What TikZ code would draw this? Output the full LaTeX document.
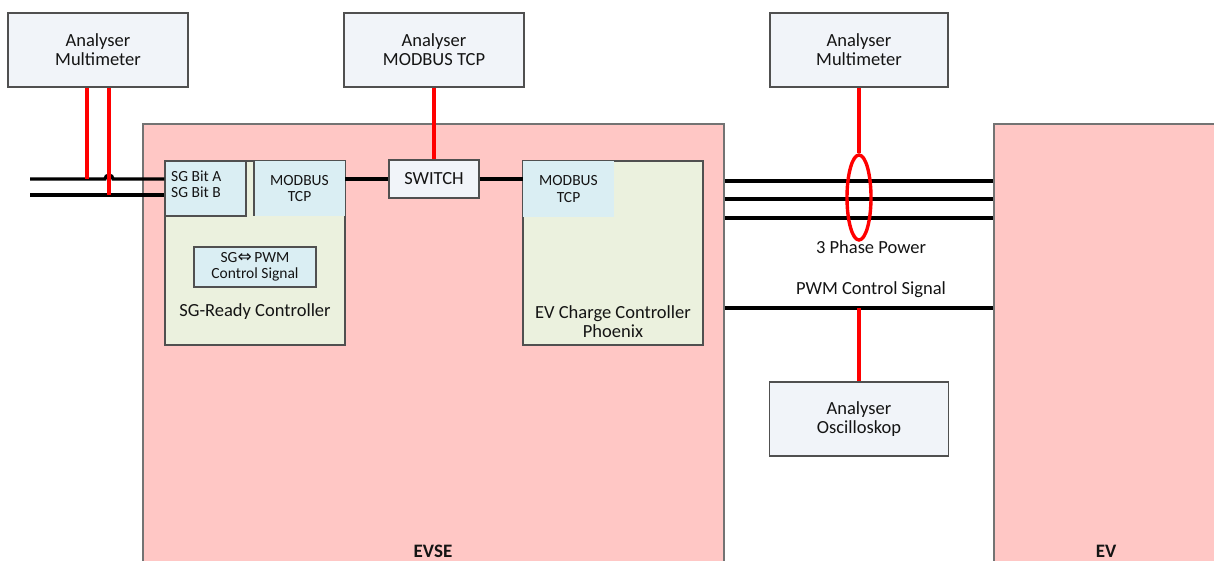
\documentclass[tikz,border=0pt]{standalone}
\usepackage{fontspec}
\setmainfont{Carlito}
\newfontfamily\arrowfont{DejaVu Sans}
\usetikzlibrary{shapes.geometric}
\definecolor{evpink}{RGB}{255,199,197}
\definecolor{anfill}{RGB}{241,244,249}
\definecolor{ctlgreen}{RGB}{235,241,222}
\definecolor{ifblue}{RGB}{218,238,243}
\definecolor{boxline}{RGB}{80,80,80}
\definecolor{probe}{RGB}{255,0,0}
\definecolor{txt}{RGB}{20,20,20}
\begin{document}
\begin{tikzpicture}[x=1pt,y=-1pt,
  every node/.style={text=txt, inner sep=0pt},
  big/.style={font=\fontsize{18.5}{19}\selectfont, align=center},
  small/.style={font=\fontsize{15.5}{16.5}\selectfont, align=center},
  analyser/.style={draw=boxline, line width=1.4pt, fill=anfill, big},
  housing/.style={draw=boxline!80, line width=1.4pt, fill=evpink},
  ctrl/.style={draw=boxline, line width=1.4pt, fill=ctlgreen},
  iface/.style={fill=ifblue, small},
  wire/.style={line width=3.2pt, black},
  probeline/.style={line width=3.4pt, probe},
]
\path[use as bounding box] (0,0) rectangle (1214,560);
\clip (0,0) rectangle (1214,560);

% housings (run past the lower edge)
\node[housing, minimum width=581pt, minimum height=456pt] (evse) at (433.5,352) {};
\node[housing, minimum width=236pt, minimum height=456pt] (ev) at (1112,352) {};
\node[font=\fontsize{19}{19}\selectfont\bfseries] (evselbl) at (433,551) {EVSE};
\node[font=\fontsize{19}{19}\selectfont\bfseries] (evlbl) at (1106,551) {EV};

% measuring instruments
\node[analyser, minimum width=180pt, minimum height=74pt] (lmm) at (98,50) {Analyser\\Multimeter};
\node[analyser, minimum width=180pt, minimum height=74pt] (amb) at (434,50) {Analyser\\MODBUS TCP};
\node[analyser, minimum width=178pt, minimum height=74pt] (rmm) at (859,50) {Analyser\\Multimeter};
\node[analyser, minimum width=179pt, minimum height=74pt] (osc) at (859,419) {Analyser\\Oscilloskop};

% SG-Ready controller
\node[ctrl, minimum width=180pt, minimum height=184pt] (sgr) at (255,253) {};
\node[iface, draw=boxline, line width=1.4pt, minimum width=81pt, minimum height=55pt] (sgbit) at (205.5,188.5) {};
\node[small, align=left, anchor=west] (sgbittxt) at (171,184) {SG Bit A\\SG Bit B};
\node[iface, minimum width=91pt, minimum height=55pt] (sgmod) at (299.5,188.5) {MODBUS\\TCP};
\draw[boxline, line width=1.4pt] (sgmod.north west) -- (sgmod.south west);
\draw[boxline, line width=1.4pt] (sgr.north west) rectangle (sgr.south east);
\node[iface, draw=boxline, line width=1.4pt, minimum width=122pt, minimum height=40pt] (sgpwm) at (255,267)
  {SG{\arrowfont\fontsize{17}{17}\selectfont ⇔}\,PWM\\Control Signal};
\node[big] (sgrlbl) at (255,312) {SG-Ready Controller};

% switch
\node[analyser, minimum width=90pt, minimum height=38pt] (sw) at (434,179) {SWITCH};

% EV charge controller
\node[ctrl, minimum width=180pt, minimum height=184pt] (evcc) at (613,253) {};
\node[iface, minimum width=91pt, minimum height=56pt] (evmod) at (568.5,189) {MODBUS\\TCP};
\draw[boxline, line width=1.4pt] (evcc.north west) rectangle (evcc.south east);
\node[big] (evcclbl) at (613,321.5) {EV Charge Controller\\Phoenix};

% SG input bits with multimeter taps
\coordinate (inA) at (30,179);
\coordinate (inB) at (30,195);
\coordinate (tapA) at (87,179);
\coordinate (tapB) at (109,195);
\draw[wire] (inA) -- ([xshift=-4pt]tapB |- inA) arc[start angle=180, end angle=0, radius=4pt]
  -- (sgbit.west |- inA);
\draw[wire] (inB) -- (sgbit.west |- inB);
\draw[probeline] (lmm.south -| tapA) -- (tapA);
\draw[probeline] (lmm.south -| tapB) -- (tapB);

% MODBUS network
\draw[wire] (sgmod.east |- sw.west) -- (sw.west);
\draw[wire] (sw.east) -- (evmod.west |- sw.east);
\draw[probeline] (amb.south) -- (sw.north);

% EVSE to EV: three phase power and PWM control signal
\foreach \yy in {181,199,218}
  \draw[wire] (evse.east |- 0,\yy) -- (ev.west |- 0,\yy);
\coordinate (pwmA) at (724,308);
\draw[wire] (evse.east |- pwmA) -- (ev.west |- pwmA);
\node[big] (phlbl) at (871,247) {3 Phase Power};
\node[big] (pwmlbl) at (871,290) {PWM Control Signal};

% current clamp and scope probe
\node[ellipse, draw=probe, line width=3.4pt, minimum width=24pt, minimum height=85pt] (ct) at (859,197.5) {};
\draw[probeline] (rmm.south) -- (ct.north);
\draw[probeline] (osc.north |- pwmA) -- (osc.north);
\end{tikzpicture}
\end{document}
